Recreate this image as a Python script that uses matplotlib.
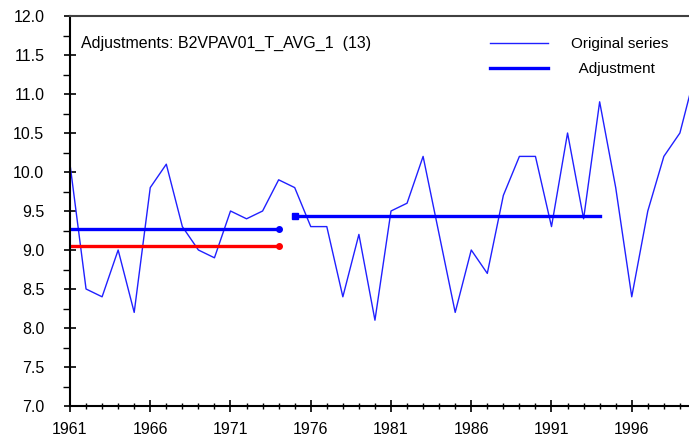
import numpy as np
import matplotlib.pyplot as plt
from matplotlib.ticker import MultipleLocator

# yearly series
years = np.arange(1961, 2001)
values = [10.1, 8.5, 8.4, 9.0, 8.2, 9.8, 10.1, 9.3, 9.0, 8.9,
          9.5, 9.4, 9.5, 9.9, 9.8, 9.3, 9.3, 8.4, 9.2, 8.1,
          9.5, 9.6, 10.2, 9.2, 8.2, 9.0, 8.7, 9.7, 10.2, 10.2,
          9.3, 10.5, 9.4, 10.9, 9.8, 8.4, 9.5, 10.2, 10.5, 11.3]

# adjustment segments: (start, end, level)
adj_blue1 = (1961, 1974, 9.27)
adj_red1 = (1961, 1974, 9.05)
adj_blue2 = (1975, 1994, 9.44)

plt.rcParams['font.family'] = ['Liberation Sans', 'DejaVu Sans']

fig = plt.figure(figsize=(6.89, 4.37), dpi=100)
ax = fig.add_axes([70 / 689, 1 - 406 / 437, 1 - 70 / 689, 390 / 437])

ax.plot(years, values, color='#2020ff', lw=1.0, label='Original series')

ax.plot([adj_blue1[0], adj_blue1[1]], [adj_blue1[2]] * 2, color='#0000ff', lw=2.4,
        label='  Adjustment')
ax.plot([adj_blue1[1]], [adj_blue1[2]], 'o', color='#0000ff', ms=4)
ax.plot([adj_red1[0], adj_red1[1]], [adj_red1[2]] * 2, color='#ff0000', lw=2.4)
ax.plot([adj_red1[1]], [adj_red1[2]], 'o', color='#ff0000', ms=4)
ax.plot([adj_blue2[0], adj_blue2[1]], [adj_blue2[2]] * 2, color='#0000ff', lw=2.4)
ax.plot([adj_blue2[0]], [adj_blue2[2]], 's', color='#0000ff', ms=4)

ax.set_xlim(1961, 1961 + 619 / 16.05)
ax.set_ylim(7.0, 12.0)
ax.xaxis.set_minor_locator(MultipleLocator(1))
ax.yaxis.set_major_locator(MultipleLocator(0.5))
ax.yaxis.set_minor_locator(MultipleLocator(0.25))
ax.set_xticks(np.arange(1961, 2000, 5))
ax.yaxis.set_major_formatter(plt.FormatStrFormatter('%.1f'))

ax.tick_params(which='major', direction='inout', length=9, width=1.2, labelsize=11.5,
               color='black')
ax.tick_params(axis='x', which='major', pad=7)
ax.tick_params(axis='y', which='major', pad=14)
ax.tick_params(which='minor', direction='inout', length=5, width=1.0, color='black')
ax.tick_params(axis='y', which='minor', direction='out', length=5)

ax.spines['right'].set_visible(False)
ax.spines['left'].set_linewidth(1.5)
ax.spines['bottom'].set_linewidth(1.5)
ax.spines['top'].set_linewidth(1.5)
ax.spines['top'].set_color('#404040')

ax.text(0.017, 0.93, 'Adjustments: B2VPAV01_T_AVG_1  (13)', transform=ax.transAxes,
        fontsize=11.5, va='center', ha='left')

ax.legend(loc='upper left', bbox_to_anchor=(490 / 689, 1 - 37 / 437),
          bbox_transform=fig.transFigure, frameon=False, fontsize=11,
          borderpad=0, borderaxespad=0, handlelength=3.8, handletextpad=1.5,
          labelspacing=0.75)

fig.savefig('out.png', dpi=100)
